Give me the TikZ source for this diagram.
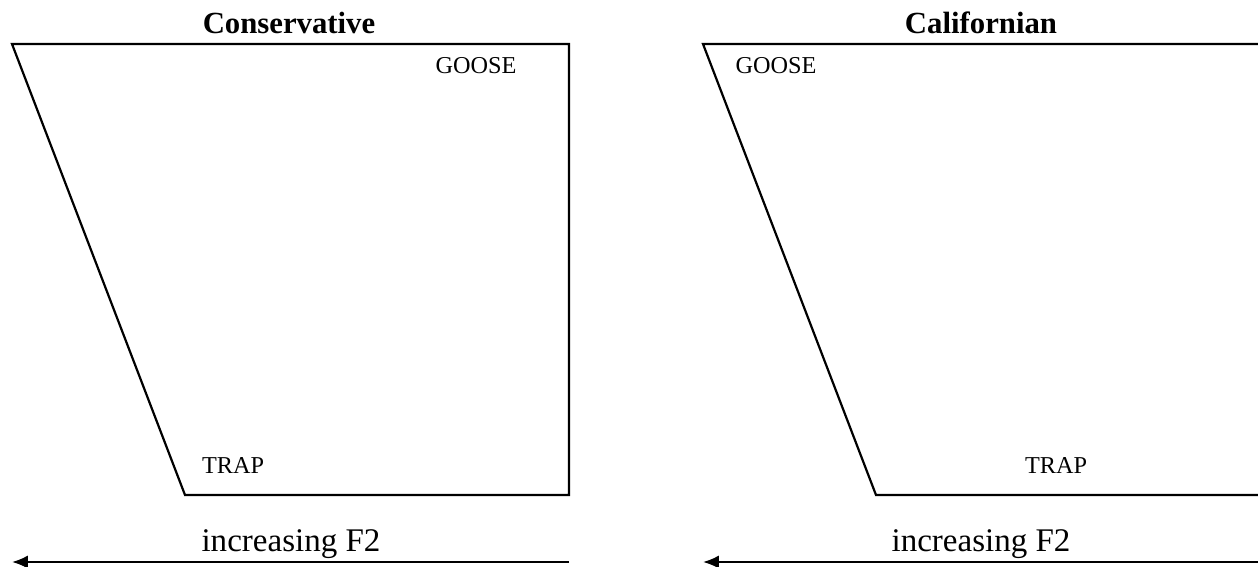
\documentclass[tikz,border=0pt]{standalone}
\usepackage{fontspec}
\setmainfont{Liberation Serif}
\usetikzlibrary{arrows.meta,positioning}

\begin{document}
\begin{tikzpicture}[x=0.02cm,y=-0.02cm,>={Latex[length=9pt,width=7.5pt]}]
  \tikzstyle{panel}=[line width=1.25pt,line join=miter]
  \tikzstyle{ttl}=[anchor=base,inner sep=0pt,font=\fontsize{17.5}{20}\selectfont\bfseries]
  \tikzstyle{vowel}=[anchor=base,inner sep=0pt,font=\fontsize{13.8}{16}\selectfont]
  \tikzstyle{axis}=[anchor=base,inner sep=0pt,font=\fontsize{18.8}{22}\selectfont]
  \useasboundingbox (0,0) rectangle (1258,567);

  % conservative space
  \coordinate (ctl) at (12,44);
  \coordinate (ctr) at (569,44);
  \coordinate (cbr) at (569,495);
  \coordinate (cbl) at (185,495);
  \draw[panel] (ctl)--(ctr)--(cbr)--(cbl)--cycle;
  \node[ttl] (ctitle) at (289,34) {Conservative};
  \node[vowel] (cgoose) at (476,74) {GOOSE};
  \node[vowel] (ctrap) at (233,474) {TRAP};

  % californian space (right edge runs off the page)
  \coordinate (ktl) at (703,44);
  \coordinate (ktr) at (1264,44);
  \coordinate (kbr) at (1264,495);
  \coordinate (kbl) at (876,495);
  \draw[panel] (ktl)--(ktr)--(kbr)--(kbl)--cycle;
  \node[ttl] (ktitle) at (981,34) {Californian};
  \node[vowel] (kgoose) at (776,74) {GOOSE};
  \node[vowel] (ktrap) at (1056,474) {TRAP};

  % F2 arrows
  \coordinate (caxr) at (569,562);
  \coordinate (caxl) at (12,562);
  \draw[panel,->] (caxr)--(caxl);
  \node[axis] (cf2) at (291,551) {increasing F2};

  \coordinate (kaxr) at (1262,562);
  \coordinate (kaxl) at (703,562);
  \draw[panel,->] (kaxr)--(kaxl);
  \node[axis] (kf2) at (981,551) {increasing F2};
\end{tikzpicture}
\end{document}
